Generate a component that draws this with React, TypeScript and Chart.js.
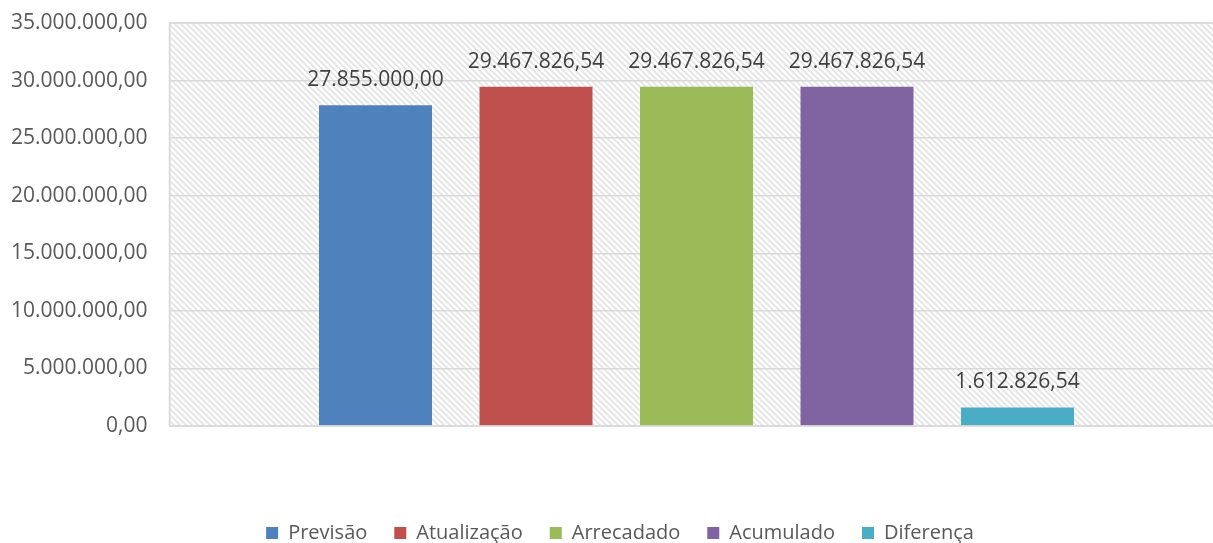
import React, { useEffect, useRef } from 'react';
import { Chart, registerables } from 'chart.js';

Chart.register(...registerables);

const categories = [''];
const seriesNames = ['Previsão', 'Atualização', 'Arrecadado', 'Acumulado', 'Diferença'];
const seriesValues = [27855000, 29467826.54, 29467826.54, 29467826.54, 1612826.54];
const seriesColors = ['#4F81BD', '#C0504D', '#9BBB59', '#8064A2', '#4BACC6'];
const yMin = 0;
const yMax = 35000000;
const yStep = 5000000;

const FONT = '"Open Sans", "Noto Sans", sans-serif';

function fmtBR(v: number): string {
  const fixed = Math.abs(v).toFixed(2);
  const [i, d] = fixed.split('.');
  const s = i.replace(/\B(?=(\d{3})+(?!\d))/g, '.') + ',' + d;
  return (v < 0 ? '-' : '') + s;
}

function makePattern(ctx: CanvasRenderingContext2D): CanvasPattern | string {
  const size = 6;
  const c = document.createElement('canvas');
  c.width = size;
  c.height = size;
  const g = c.getContext('2d');
  if (!g) return '#f2f2f2';
  g.fillStyle = '#ffffff';
  g.fillRect(0, 0, size, size);
  for (let y = 0; y < size; y++) {
    for (let x = 0; x < size; x++) {
      const k = (((x - y) % size) + size) % size;
      if (k === 0 || k === 2) {
        g.fillStyle = '#ececec';
        g.fillRect(x, y, 1, 1);
      } else if (k === 1) {
        g.fillStyle = '#e2e2e2';
        g.fillRect(x, y, 1, 1);
      }
    }
  }
  return ctx.createPattern(c, 'repeat') || '#f2f2f2';
}

const bgPlugin = {
  id: 'hatchBg',
  beforeDraw(chart: any) {
    const { ctx, chartArea } = chart;
    if (!chartArea) return;
    ctx.save();
    ctx.fillStyle = makePattern(ctx);
    ctx.fillRect(chartArea.left, chartArea.top, chartArea.right - chartArea.left, chartArea.bottom - chartArea.top);
    ctx.restore();
  },
  afterDraw(chart: any) {
    const { ctx, chartArea } = chart;
    ctx.save();
    ctx.strokeStyle = '#d9d9d9';
    ctx.lineWidth = 1.5;
    ctx.strokeRect(chartArea.left, chartArea.top, chartArea.right - chartArea.left, chartArea.bottom - chartArea.top);
    ctx.restore();
  },
};

const labelPlugin = {
  id: 'valueLabels',
  afterDatasetsDraw(chart: any) {
    const { ctx } = chart;
    ctx.save();
    ctx.font = `21px ${FONT}`;
    ctx.fillStyle = '#404040';
    ctx.textAlign = 'center';
    ctx.textBaseline = 'middle';
    chart.data.datasets.forEach((ds: any, i: number) => {
      const meta = chart.getDatasetMeta(i);
      meta.data.forEach((bar: any, j: number) => {
        const v = ds.data[j];
        ctx.fillText(fmtBR(v), bar.x, bar.y - 25);
      });
    });
    ctx.restore();
  },
};

export default function App() {
  const ref = useRef<HTMLCanvasElement | null>(null);

  useEffect(() => {
    document.body.style.margin = '0';
    const canvas = ref.current;
    if (!canvas) return;
    const chart = new Chart(canvas, {
      type: 'bar',
      data: {
        labels: categories,
        datasets: seriesNames.map((name, i) => ({
          label: name,
          data: [seriesValues[i]],
          backgroundColor: seriesColors[i],
          borderWidth: 0,
          categoryPercentage: 0.7614,
          barPercentage: 0.704,
        })),
      },
      options: {
        responsive: false,
        animation: false,
        devicePixelRatio: 1,
        layout: { padding: { top: 23, right: 0, left: 0, bottom: 0 } },
        plugins: {
          tooltip: { enabled: false },
          title: { display: false },
          legend: {
            display: true,
            position: 'bottom',
            labels: {
              boxWidth: 12,
              boxHeight: 12,
              padding: 27,
              color: '#595959',
              font: { family: FONT, size: 20 },
            },
          },
        },
        scales: {
          x: {
            grid: { display: false },
            border: { display: false },
            ticks: { display: false },
            afterFit(scale: any) {
              scale.height = 70;
              scale.paddingLeft = 0;
              scale.paddingRight = 0;
            },
          },
          y: {
            min: yMin,
            max: yMax,
            grid: { color: '#d9d9d9', lineWidth: 1.5, drawTicks: false },
            border: { display: true, color: '#d9d9d9', width: 1.5 },
            ticks: {
              stepSize: yStep,
              padding: 22,
              color: '#595959',
              font: { family: FONT, size: 21 },
              callback: (v: any) => fmtBR(Number(v)),
            },
            afterFit(scale: any) {
              scale.width = 169.5;
              scale.paddingTop = 0;
              scale.paddingBottom = 0;
            },
          },
          yRightSpacer: {
            type: 'linear',
            position: 'right',
            display: true,
            min: yMin,
            max: yMax,
            grid: { display: false, drawTicks: false },
            border: { display: false },
            ticks: { display: false },
            afterFit(scale: any) {
              scale.width = 16.5;
              scale.paddingTop = 0;
              scale.paddingBottom = 0;
            },
          },
        },
      },
      plugins: [bgPlugin, labelPlugin],
    } as any);
    return () => chart.destroy();
  }, []);

  return (
    <div style={{ position: 'fixed', left: 0, top: 0, width: 1213, height: 543, overflow: 'hidden', background: '#fff' }}>
      <canvas ref={ref} width={1240} height={553} style={{ display: 'block', width: 1240, height: 553 }} />
    </div>
  );
}
